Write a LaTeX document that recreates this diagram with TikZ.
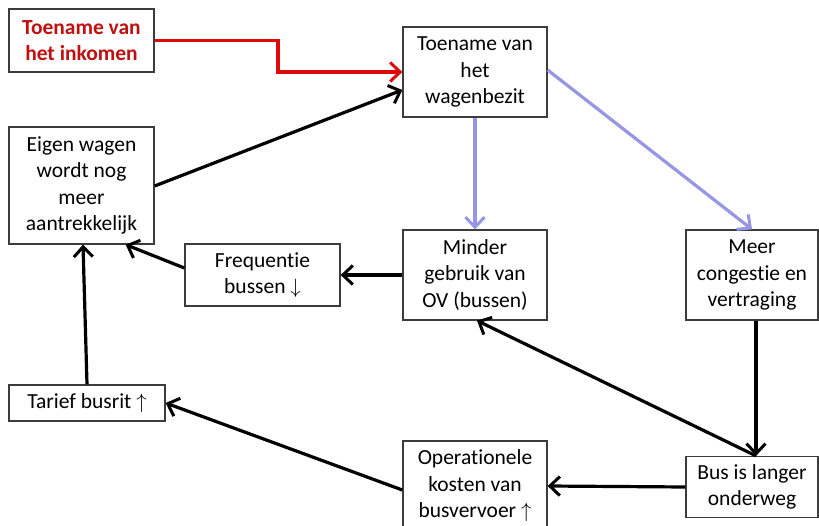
\documentclass[tikz,border=0pt]{standalone}
\usepackage{fontspec}
\setmainfont[Ligatures=NoCommon]{Carlito}
\usetikzlibrary{arrows.meta}
\definecolor{lav}{RGB}{150,150,228}
\definecolor{arrred}{RGB}{222,10,10}
\definecolor{txtred}{RGB}{192,16,16}
\definecolor{bord}{RGB}{60,60,60}
\tikzset{
  box/.style={draw=bord, line width=1.3pt, fill=white, align=center, inner sep=0pt,
    font=\fontsize{21.5}{26.5}\selectfont},
  conn/.style={line width=3.2pt, -{Straight Barb[length=10pt,width=19pt,line width=3pt]}},
  blk/.style={conn, black},
  lv/.style={conn, lav},
  rd/.style={conn, arrred}
}
\begin{document}
\begin{tikzpicture}[x=1pt,y=-1pt]
\useasboundingbox (0,0) rectangle (819,526);
\clip (0,0) rectangle (819,526);
\fill[white] (0,0) rectangle (819,526);
\node[box, minimum width=145pt, minimum height=63pt, text=txtred, font=\fontsize{21.5}{26.5}\selectfont\bfseries] (ink) at (81.5,40.5) {Toename van\\het inkomen};
\node[box, minimum width=144pt, minimum height=90pt] (wb) at (475,72) {Toename van\\het\\wagenbezit};
\node[box, minimum width=145pt, minimum height=117pt] (eig) at (81.5,185.5) {Eigen wagen\\wordt nog\\meer\\aantrekkelijk};
\node[box, minimum width=155pt, minimum height=62pt] (freq) at (262.5,275) {Frequentie\\bussen $\downarrow$};
\node[box, minimum width=144pt, minimum height=90pt] (mind) at (475,275) {Minder\\gebruik van\\OV (bussen)};
\node[box, minimum width=132pt, minimum height=90pt] (meer) at (752,275) {Meer\\congestie en\\vertraging};
\node[box, minimum width=156pt, minimum height=36pt] (tar) at (87,403) {Tarief busrit $\uparrow$};
\node[box, minimum width=144pt, minimum height=90pt] (oper) at (475,486) {Operationele\\kosten van\\busvervoer $\uparrow$};
\node[box, minimum width=132pt, minimum height=61pt] (bus) at (752,487) {Bus is langer\\onderweg};
\coordinate (rk) at (278,0);
\draw[rd] (ink.east) -- (ink.east -| rk) -- (rk |- wb.west) -- (wb.west);
\draw[blk] ([yshift=-0.5pt]eig.east) -- ([yshift=-18pt]wb.west);
\draw[lv] (wb.south) -- (mind.north);
\draw[lv] ([yshift=2pt]wb.east) -- (meer.north);
\draw[blk] (mind.west) -- (freq.east);
\draw[blk] ([yshift=7pt]freq.west) -- ([xshift=-29pt]eig.south east);
\draw[blk] (tar.north) -- ([xshift=1.5pt]eig.south);
\draw[blk] ([xshift=4pt]meer.south) -- ([xshift=4pt]bus.north);
\draw[blk] ([xshift=4pt]bus.north) -- ([xshift=2pt]mind.south);
\draw[blk] (bus.west) -- (oper.east);
\draw[blk] ([yshift=-4pt]oper.west) -- (tar.east);
\end{tikzpicture}
\end{document}
